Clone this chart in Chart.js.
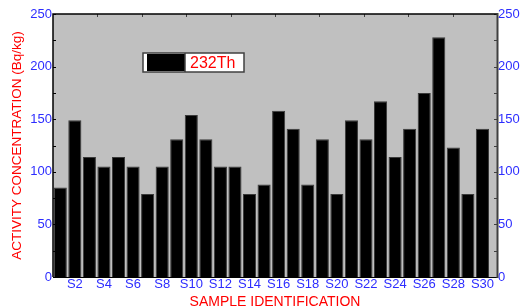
<!DOCTYPE html>
<html><head><meta charset="utf-8">
<style>html,body{margin:0;padding:0;background:#fff;overflow:hidden} #c{display:block;}</style>
<script src="https://cdn.jsdelivr.net/npm/chart.js@4"></script>
</head><body>
<canvas id="c" width="522" height="307" style="width:522px;height:307px"></canvas>
<script>
const categories = ['S1','S2','S3','S4','S5','S6','S7','S8','S9','S10','S11','S12','S13','S14','S15','S16','S17','S18','S19','S20','S21','S22','S23','S24','S25','S26','S27','S28','S29','S30'];
const values232Th = [85,149,114,105,114,105,79,105,131,154,131,105,105,79,88,158,141,88,131,79,149,131,167,114,141,175,228,123,79,141];
const xTickCategories = ['S2','S4','S6','S8','S10','S12','S14','S16','S18','S20','S22','S24','S26','S28','S30'];
const yTickValues = [0,50,100,150,200,250];
const seriesName = '232Th';

const BLUE = '#2d2dff', RED = '#ff0000', FONT = 'Liberation Sans, Arial, sans-serif';

const frame = {
  id: 'frame',
  beforeDatasetsDraw(chart) {
    const {ctx, chartArea: a} = chart;
    ctx.save();
    ctx.fillStyle = '#c0c0c0';
    ctx.fillRect(a.left, a.top, a.right - a.left, a.bottom - a.top);
    ctx.restore();
  },
  afterDatasetsDraw(chart) {
    const {ctx, chartArea: a, scales} = chart;
    const y = scales.y;
    ctx.save();
    for (let v = 0; v <= 250; v += 25) {
      const py = Math.round(y.getPixelForValue(v)) + 0.5;
      ctx.strokeStyle = '#000'; ctx.lineWidth = 1;
      ctx.beginPath(); ctx.moveTo(a.left, py); ctx.lineTo(a.left + 3, py); ctx.stroke();
      ctx.strokeStyle = '#404040';
      ctx.beginPath(); ctx.moveTo(a.right - 3, py); ctx.lineTo(a.right, py); ctx.stroke();
    }
    for (let i = 1; i < 10; i++) {
      const px = Math.round(a.left + (a.right - a.left) * i / 10) + 0.5;
      ctx.strokeStyle = '#404040'; ctx.lineWidth = 1;
      ctx.beginPath(); ctx.moveTo(px, a.top); ctx.lineTo(px, a.top + 3); ctx.stroke();
    }
    ctx.strokeStyle = '#000'; ctx.lineWidth = 1.5;
    ctx.beginPath(); ctx.moveTo(a.left, a.bottom); ctx.lineTo(a.left, a.top); ctx.lineTo(a.right, a.top); ctx.stroke();
    ctx.lineWidth = 1;
    ctx.beginPath(); ctx.moveTo(a.left, a.bottom + 0.5); ctx.lineTo(a.right, a.bottom + 0.5); ctx.stroke();
    ctx.strokeStyle = '#404040'; ctx.lineWidth = 2;
    ctx.beginPath(); ctx.moveTo(a.right + 0.5, a.top - 1); ctx.lineTo(a.right + 0.5, a.bottom + 1); ctx.stroke();
    const lx = a.left + 90, ly = a.top + 39, lw = 101, lh = 19;
    ctx.fillStyle = '#fff'; ctx.fillRect(lx, ly, lw, lh);
    ctx.fillStyle = '#000'; ctx.fillRect(lx + 4, ly + 1, 38, lh - 2);
    ctx.strokeStyle = '#404040'; ctx.lineWidth = 1.5;
    ctx.strokeRect(lx, ly, lw, lh);
    ctx.beginPath(); ctx.moveTo(lx + 42, ly); ctx.lineTo(lx + 42, ly + lh); ctx.stroke();
    ctx.fillStyle = RED; ctx.font = '16px ' + FONT; ctx.textBaseline = 'middle'; ctx.textAlign = 'left';
    ctx.fillText(seriesName, lx + 47, ly + lh / 2 + 1);
    ctx.restore();
  }
};

new Chart(document.getElementById('c'), {
  type: 'bar',
  data: {
    datasets: [{
      label: seriesName,
      data: values232Th.map((v, i) => ({x: i + 1, y: v})),
      backgroundColor: '#000',
      borderColor: '#3a3a3a',
      borderWidth: 1,
      barPercentage: 0.9,
      categoryPercentage: 1.0,
      yAxisID: 'y'
    }]
  },
  options: {
    responsive: false,
    animation: false,
    devicePixelRatio: 1,
    layout: {padding: {top: 14, left: 0, right: 0, bottom: 0}},
    plugins: {legend: {display: false}, tooltip: {enabled: false}},
    scales: {
      x: {
        type: 'linear', position: 'bottom', min: 0.5, max: 31, offset: false,
        afterBuildTicks: s => { s.ticks = xTickCategories.map(c => ({value: categories.indexOf(c) + 1})); },
        afterFit: s => { s.height = 30; },
        ticks: {callback: v => categories[v - 1], color: BLUE, font: {family: FONT, size: 13}, padding: 0, maxRotation: 0, autoSkip: false},
        grid: {display: false, drawTicks: false, offset: false},
        border: {display: false},
        title: {display: true, text: 'SAMPLE IDENTIFICATION', color: RED, font: {family: FONT, size: 14}, padding: {top: 0, bottom: -4}}
      },
      y: {
        type: 'linear', position: 'left', min: 0, max: 250,
        afterBuildTicks: s => { s.ticks = yTickValues.map(v => ({value: v})); },
        afterFit: s => { s.width = 53; },
        ticks: {color: BLUE, font: {family: FONT, size: 13}, padding: 1},
        grid: {display: false, drawTicks: false},
        border: {display: false},
        title: {display: true, text: 'ACTIVITY CONCENTRATION (Bq/kg)', color: RED, font: {family: FONT, size: 13.5}, padding: {top: 9, bottom: 0}}
      },
      y2: {
        type: 'linear', position: 'right', min: 0, max: 250,
        afterBuildTicks: s => { s.ticks = yTickValues.map(v => ({value: v})); },
        afterFit: s => { s.width = 25; },
        ticks: {color: BLUE, font: {family: FONT, size: 13}, padding: 1},
        grid: {display: false, drawTicks: false},
        border: {display: false}
      }
    }
  },
  plugins: [frame]
});
</script>
</body></html>
